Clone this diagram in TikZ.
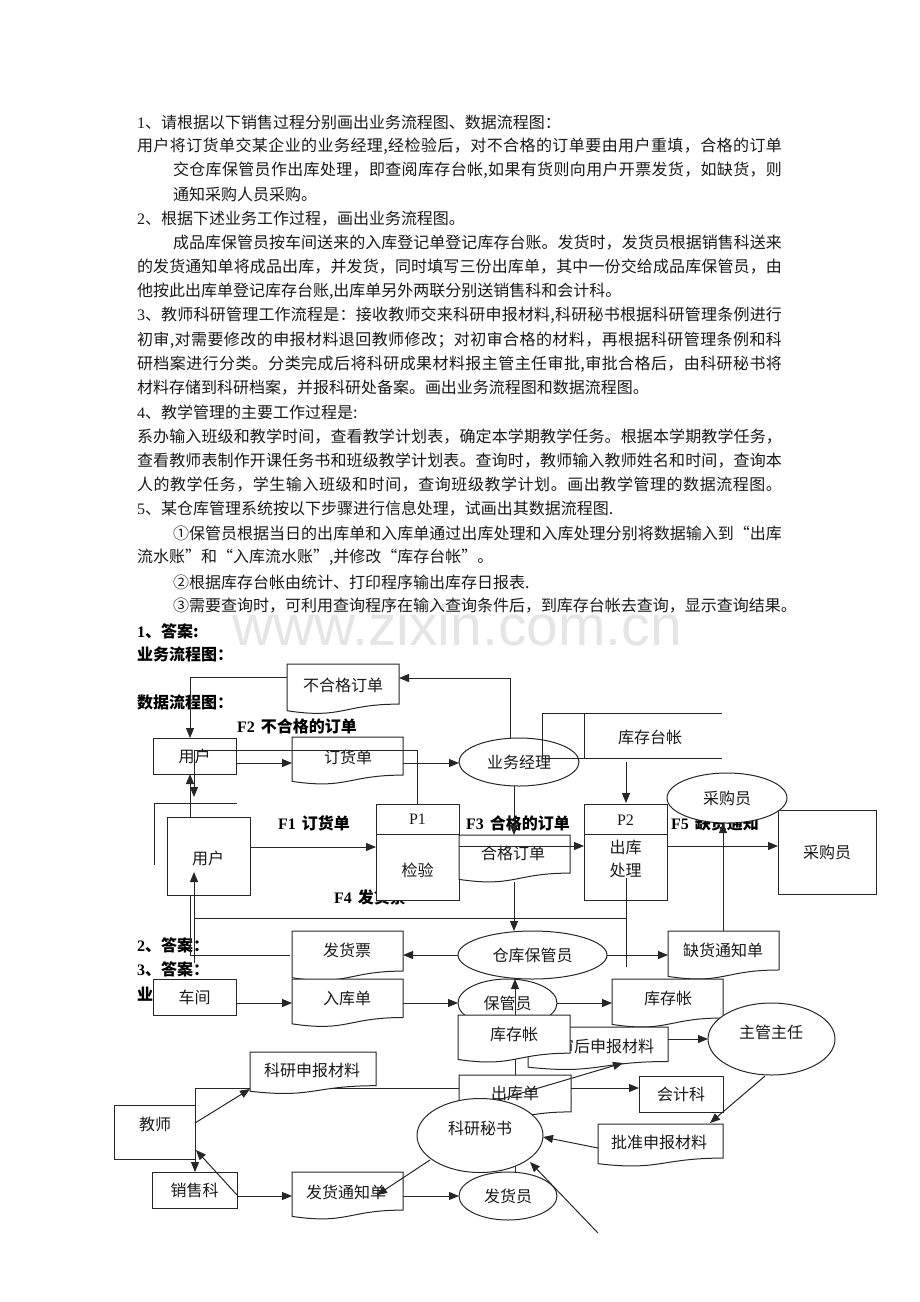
\documentclass[tikz,border=0pt]{standalone}
\usepackage{fontspec}
\setmainfont{Liberation Serif}
\newfontfamily\cjk{Noto Sans CJK SC}
\newfontfamily\lat{Liberation Serif}
\newfontfamily\wmfont{Liberation Sans}
\usetikzlibrary{arrows.meta,shapes.geometric}
% stretchable glue between CJK characters, for justified lines
\newcount\cjkc
\newcommand\setcjkclass[2]{\cjkc=#1\relax
  \loop \XeTeXcharclass\cjkc=1 \advance\cjkc by 1 \ifnum\cjkc<#2\relax\repeat}
\setcjkclass{"4E00}{"A000}
\setcjkclass{"3000}{"3040}
\setcjkclass{"FF00}{"FFF0}
\setcjkclass{"2460}{"2474}
\XeTeXcharclass"201C=1 \XeTeXcharclass"201D=1
\XeTeXinterchartokenstate=1
\XeTeXinterchartoks 1 1 = {\hskip 0pt plus 1pt minus 0.3pt}
\XeTeXinterchartoks 0 1 = {\hskip 0pt plus 1pt minus 0.3pt}
\XeTeXinterchartoks 1 0 = {\hskip 0pt plus 1pt minus 0.3pt}
\newcommand\jl[2]{\hbox to #1pt{#2}}
% document shape: name, x1, x2, top, h, text x, text y, text
\newcommand\docbox[8]{%
  \draw[shp] (#2,#4) -- (#3,#4) -- (#3,{#4+0.802*#5}) .. controls ({(#2+#3)/2},{#4+0.802*#5}) and ({(#2+#3)/2},{#4+1.107*#5}) .. (#2,{#4+0.934*#5}) -- cycle;
  \node[txt] (#1) at (#6,#7) {#8};
}
\begin{document}
\begin{tikzpicture}[x=1pt,y=-1pt,
  every node/.style={inner sep=0pt,outer sep=0pt},
  txt/.style={font=\cjk\fontsize{16}{16}\selectfont, text=black!90},
  btxt/.style={font=\cjk\bfseries\fontsize{16}{16}\selectfont, text=black, anchor=west},
  para/.style={txt, anchor=west},
  shp/.style={draw=black!85, line width=1pt, fill=white},
  ln/.style={draw=black!85, line width=1pt},
  arr/.style={ln, -{Triangle[length=10pt,width=8pt]}},
  rbox/.style={shp, rectangle, txt},
  ell/.style={shp, ellipse, txt},
]
\useasboundingbox (0,0) rectangle (920,1302);

% watermark
\node[anchor=base west, font=\wmfont\fontsize{57}{57}\selectfont, text=black!10] (wm) at (232,645) {www.zixin.com.cn};

% paragraph text
\node[para] (t1) at (137,122) {{\lat 1}、请根据以下销售过程分别画出业务流程图、数据流程图：};
\node[para] (t2) at (137,146) {\jl{645}{用户将订货单交某企业的业务经理,经检验后，对不合格的订单要由用户重填，合格的订单}};
\node[para] (t3) at (173,170) {\jl{609}{交仓库保管员作出库处理，即查阅库存台帐,如果有货则向用户开票发货，如缺货，则}};
\node[para] (t4) at (173,194.5) {通知采购人员采购。};
\node[para] (t5) at (137,219) {{\lat 2}、根据下述业务工作过程，画出业务流程图。};
\node[para] (t6) at (173,243) {\jl{609}{成品库保管员按车间送来的入库登记单登记库存台账。发货时，发货员根据销售科送来}};
\node[para] (t7) at (137,267) {\jl{645}{的发货通知单将成品出库，并发货，同时填写三份出库单，其中一份交给成品库保管员，由}};
\node[para] (t8) at (137,291.5) {他按此出库单登记库存台账,出库单另外两联分别送销售科和会计科。};
\node[para] (t9) at (137,315.5) {\jl{645}{{\lat 3}、教师科研管理工作流程是：接收教师交来科研申报材料,科研秘书根据科研管理条例进行}};
\node[para] (t10) at (137,340) {\jl{645}{初审,对需要修改的申报材料退回教师修改；对初审合格的材料，再根据科研管理条例和科}};
\node[para] (t11) at (137,364) {\jl{645}{研档案进行分类。分类完成后将科研成果材料报主管主任审批,审批合格后，由科研秘书将}};
\node[para] (t12) at (137,388) {材料存储到科研档案，并报科研处备案。画出业务流程图和数据流程图。};
\node[para] (t13) at (137,412.5) {{\lat 4}、教学管理的主要工作过程是:};
\node[para] (t14) at (137,436.5) {\jl{645}{系办输入班级和教学时间，查看教学计划表，确定本学期教学任务。根据本学期教学任务，}};
\node[para] (t15) at (137,461) {\jl{645}{查看教师表制作开课任务书和班级教学计划表。查询时，教师输入教师姓名和时间，查询本}};
\node[para] (t16) at (137,485) {\jl{645}{人的教学任务，学生输入班级和时间，查询班级教学计划。画出教学管理的数据流程图。}};
\node[para] (t17) at (137,509) {{\lat 5}、某仓库管理系统按以下步骤进行信息处理，试画出其数据流程图.};
\node[para] (t18) at (173,533.5) {\jl{609}{①保管员根据当日的出库单和入库单通过出库处理和入库处理分别将数据输入到“出库}};
\node[para] (t19) at (137,557.5) {流水账”和“入库流水账”,并修改“库存台帐”。};
\node[para] (t20) at (173,582) {②根据库存台帐由统计、打印程序输出库存日报表.};
\node[para] (t21) at (173,606) {③需要查询时，可利用查询程序在输入查询条件后，到库存台帐去查询，显示查询结果。};

% headings
\node[btxt] (h1) at (137,631) {{\lat 1}、答案:};
\node[btxt] (h2) at (137,654) {业务流程图：};
\node[btxt] (h3) at (137,702) {数据流程图：};
\node[btxt] (h4) at (137,945) {{\lat 2}、答案：};
\node[btxt] (h5) at (137,969) {{\lat 3}、答案：};
\node[btxt] (h6) at (137,994) {业务流程图：};

% flow labels
\node[btxt] (f2) at (237,726) {{\lat F2}\hspace{6pt}不合格的订单};
\node[btxt] (f1) at (278,823) {{\lat F1}\hspace{6pt}订货单};
\node[btxt] (f3) at (466,823) {{\lat F3}\hspace{6pt}合格的订单};
\node[btxt] (f5) at (671,823) {{\lat F5}\hspace{6pt}缺货通知};
\node[btxt] (f4) at (334,897) {{\lat F4}\hspace{6pt}发货票};

% lines partly hidden by shapes drawn later
\coordinate (j1) at (190,955);
\draw[arr] (290,955) -- (j1) -- (190,774);
\coordinate (j2) at (515,1172);
\draw[arr] (j2) -- (515,979);
\coordinate (j3) at (195,1088);
\draw[arr] (459,1088) -- (j3) -- (195,1172);

% ---------- shapes ----------
\docbox{bhg}{287}{399}{664}{50}{343}{685}{不合格订单}
\node[rbox,minimum width=83pt,minimum height=36pt] (yh1) at (194.5,756) {用户};
\docbox{dhd}{292}{403}{737}{47.5}{348}{757}{订货单}
\node[ell,fill=none,minimum width=120pt,minimum height=48pt] (ywjl) at (519,762) {业务经理};
% data store
\draw[ln] (722,713) -- (542,713) -- (542,758) -- (722,758);
\draw[ln] (584,713) -- (584,758);
\node[txt] (kctz) at (650,737) {库存台帐};

% lower user entity
\draw[ln] (154,865) -- (154,803) -- (237,803);
\node[rbox,minimum width=83pt,minimum height=78pt] (yh2) at (208.5,856) {};
\node[txt] (yh2t) at (208,858) {用户};

% P1
\draw[shp] (376,804) rectangle (459,900);
\draw[ln] (376,834) -- (459,834);
\node[txt,font=\lat\fontsize{16}{16}\selectfont] (p1) at (417.5,819) {P1};
\node[txt] (p1t) at (417.5,870) {检验};
\docbox{hgdd}{459}{570}{835}{47.5}{513}{853}{合格订单}
% P2
\draw[shp] (584,804) rectangle (667,900);
\draw[ln] (584,834) -- (667,834);
\node[txt,font=\lat\fontsize{16}{16}\selectfont] (p2) at (625.5,820) {P2};
\node[txt] (p2a) at (625.5,847) {出库};
\node[txt] (p2b) at (625.5,870) {处理};
% purchaser
\node[rbox,minimum width=98pt,minimum height=84pt] (cgyb) at (827,852) {采购员};
\node[ell,minimum width=120pt,minimum height=50pt] (cgye) at (727,798) {采购员};

% middle
\docbox{fhp}{292}{403}{931}{50}{347}{950}{发货票}
\node[ell,minimum width=149pt,minimum height=48pt] (ckbg) at (532.5,955) {仓库保管员};
\docbox{qhtz}{668}{779}{931}{48.6}{723}{950}{缺货通知单}
\node[rbox,minimum width=83pt,minimum height=36pt] (cj) at (194.5,997) {车间};
\docbox{rkd}{292}{403}{979}{48}{347}{998}{入库单}
\node[ell,fill=none,minimum width=99pt,minimum height=48pt] (bgy) at (507.5,1003) {保管员};
\docbox{kcz2}{612}{723}{979}{48.6}{668}{998}{库存帐}
\docbox{cshb}{528}{668}{1027}{43}{598}{1046}{初审后申报材料}
\docbox{kcz1}{458}{570}{1015}{47.6}{514}{1034}{库存帐}
\node[ell,minimum width=127pt,minimum height=72pt] (zgzr) at (771.5,1039) {};
\node[txt] (zgzrt) at (771,1032) {主管主任};

% bottom
\docbox{kysb}{250}{376}{1052}{42}{312}{1070}{科研申报材料}
\node[rbox,minimum width=81pt,minimum height=54pt] (js) at (154.5,1132) {};
\node[txt] (jst) at (155,1124) {教师};
\docbox{ckd}{459}{571}{1075}{46}{515}{1093}{出库单}
\node[rbox,minimum width=84pt,minimum height=36pt] (kjk) at (681,1094) {会计科};
\node[ell,minimum width=126pt,minimum height=74pt] (kyms) at (480,1135.5) {};
\node[txt] (kymst) at (480,1128) {科研秘书};
\docbox{pzsb}{598}{723}{1124}{42.5}{659}{1142}{批准申报材料}
\node[rbox,minimum width=85pt,minimum height=36pt] (xsk) at (194.5,1190) {销售科};
\docbox{fhtz}{292}{403}{1172}{47.5}{346}{1192}{发货通知单}
\node[ell,minimum width=98pt,minimum height=48pt] (fhy) at (508,1196) {发货员};

% ---------- connectors drawn on top ----------
\coordinate (k1) at (510,678);
\draw[arr] (510,739) -- (k1) -- (399,678);
\coordinate (k2) at (190,677);
\draw[arr] (287,677) -- (k2) -- (190,738);
\draw[arr] (236,763) -- (292,763);
\draw[arr] (403,763) -- (459,763);
\coordinate (k3) at (194,750);
\coordinate (k4) at (417,750);
\draw[ln] (k3) -- (k4) -- (417,804);
\draw[arr] (k3) -- (194,797);
\draw[arr] (194,963) -- (194,872);
\coordinate (k5) at (194,918);
\coordinate (k6) at (626,918);
\draw[ln] (k5) -- (k6);
\draw[ln] (626,878) -- (626,967);
\draw[arr] (250,847) -- (376,847);
\draw[arr] (459,846) -- (584,846);
\draw[arr] (ywjl.south -| 514,0) -- (514,835);
\draw[arr] (514,882) -- (514,931);
\draw[arr] (626,762) -- (626,803);
\draw[arr] (667,846) -- (778,846);
\draw[arr] (723,931) -- (723,823);
\draw[arr] (607,955) -- (668,955);
\draw[arr] (458,955) -- (403,955);
\draw[arr] (236,1003) -- (292,1003);
\draw[arr] (403,1003) -- (458,1003);
\draw[arr] (557,1003) -- (612,1003);
\draw[arr] (668,1039) -- (708,1039);
\draw[arr] (765,1076) -- (710,1123);
\draw[arr] (571,1088) -- (639,1088);
\draw[arr] (598,1148) -- (543,1137);
\draw[arr] (498,1100) -- (623,1063);
\coordinate (free) at (598,1233);
\draw[arr] (free) -- (530,1162);
\draw[arr] (403,1196) -- (459,1196);
\draw[arr] (430,1160) -- (377,1195);
\draw[arr] (237,1196) -- (292,1196);
\draw[arr] (237,1195) -- (196,1150);
\draw[arr] (195,1123) -- (250,1089);
\end{tikzpicture}
\end{document}
